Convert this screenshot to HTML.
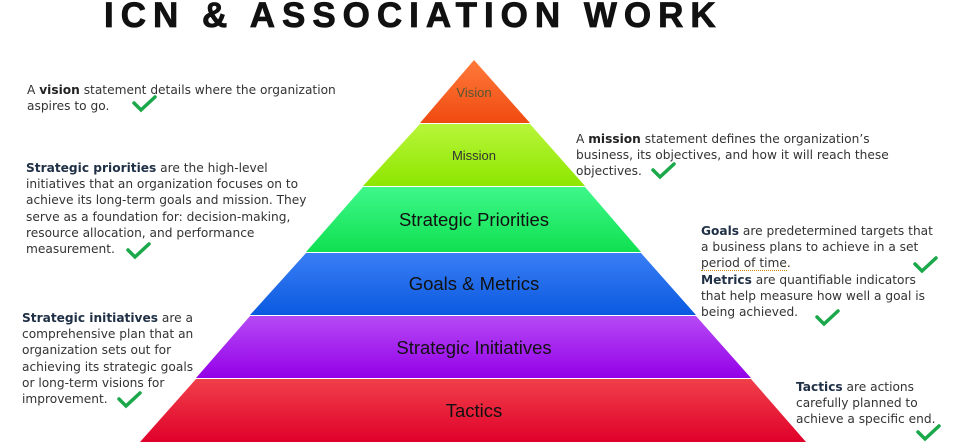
<!DOCTYPE html>
<html><head><meta charset="utf-8"><style>
body{margin:0;width:955px;height:446px;background:#fff;position:relative;overflow:hidden;font-family:"Liberation Sans",sans-serif;}
.t{position:absolute;font-family:"DejaVu Sans",sans-serif;font-size:12.2px;line-height:16.2px;color:#333;white-space:nowrap;}
.t b{color:#1f2f45;}
h1{position:absolute;left:104px;top:-4px;margin:0;font-size:35px;letter-spacing:7px;font-weight:bold;color:#111;white-space:nowrap;-webkit-text-stroke:0.8px #111;}
svg{position:absolute;left:0;top:0;}
</style></head><body>
<h1>ICN &amp; ASSOCIATION WORK</h1>
<svg width="955" height="446">
<defs>
<linearGradient id="g1" x1="0" y1="0" x2="0" y2="1"><stop offset="0" stop-color="#ff7a3a"/><stop offset="1" stop-color="#f04a10"/></linearGradient>
<linearGradient id="g2" x1="0" y1="0" x2="0" y2="1"><stop offset="0" stop-color="#b8f53a"/><stop offset="1" stop-color="#8ee600"/></linearGradient>
<linearGradient id="g3" x1="0" y1="0" x2="0" y2="1"><stop offset="0" stop-color="#3ef88a"/><stop offset="1" stop-color="#10e050"/></linearGradient>
<linearGradient id="g4" x1="0" y1="0" x2="0" y2="1"><stop offset="0" stop-color="#3a7ef5"/><stop offset="1" stop-color="#0a5ae0"/></linearGradient>
<linearGradient id="g5" x1="0" y1="0" x2="0" y2="1"><stop offset="0" stop-color="#b64af5"/><stop offset="1" stop-color="#9400e8"/></linearGradient>
<linearGradient id="g6" x1="0" y1="0" x2="0" y2="1"><stop offset="0" stop-color="#f0404a"/><stop offset="1" stop-color="#e0002a"/></linearGradient>
</defs>
<polygon points="474,60 420,123 530,123" fill="url(#g1)"/>
<polygon points="420,124 530,124 585,186 363,186" fill="url(#g2)"/>
<polygon points="363,187 585,187 641,252 306,252" fill="url(#g3)"/>
<polygon points="306,253 641,253 696,315 250,315" fill="url(#g4)"/>
<polygon points="250,316 696,316 751,378 196,378" fill="url(#g5)"/>
<polygon points="196,379 751,379 806,442 140,442" fill="url(#g6)"/>
<g font-family="Liberation Sans,sans-serif" text-anchor="middle" fill="#111">
<text x="474" y="97" font-size="13" fill="#553">Vision</text>
<text x="474" y="160" font-size="13" fill="#333">Mission</text>
<text x="474" y="226" font-size="18.5">Strategic Priorities</text>
<text x="474" y="290" font-size="18.5">Goals &amp; Metrics</text>
<text x="474" y="354" font-size="18.5">Strategic Initiatives</text>
<text x="474" y="417" font-size="18.5">Tactics</text>
</g>
<g stroke="#1aa84a" stroke-width="3.5" fill="none" stroke-linecap="round">
<path d="M134,103 l7,7 l14,-13"/>
<path d="M128,250 l7,7 l14,-13"/>
<path d="M119,399 l7,7 l14,-13"/>
<path d="M653,170 l7,7 l14,-13"/>
<path d="M915,264 l7,7 l14,-13"/>
<path d="M817,317 l7,7 l14,-13"/>
<path d="M918,432 l7,7 l14,-13"/>
</g>
</svg>
<div class="t" style="left:27px;top:82px">A <b style="color:#222">vision</b> statement details where the organization<br>aspires to go.</div>
<div class="t" style="left:26px;top:160px"><b>Strategic priorities</b> are the high-level<br>initiatives that an organization focuses on to<br>achieve its long-term goals and mission. They<br>serve as a foundation for: decision-making,<br>resource allocation, and performance<br>measurement.</div>
<div class="t" style="left:22px;top:310px"><b>Strategic initiatives</b> are a<br>comprehensive plan that an<br>organization sets out for<br>achieving its strategic goals<br>or long-term visions for<br>improvement.</div>
<div class="t" style="left:576px;top:131px">A <b style="color:#222">mission</b> statement defines the organization’s<br>business, its objectives, and how it will reach these<br>objectives.</div>
<div class="t" style="left:701px;top:223px"><b>Goals</b> are predetermined targets that<br>a business plans to achieve in a set<br><span style="border-bottom:1px dotted #c80">period of time</span>.<br><b>Metrics</b> are quantifiable indicators<br>that help measure how well a goal is<br>being achieved.</div>
<div class="t" style="left:796px;top:379px"><b>Tactics</b> are actions<br>carefully planned to<br>achieve a specific end.</div>
</body></html>
